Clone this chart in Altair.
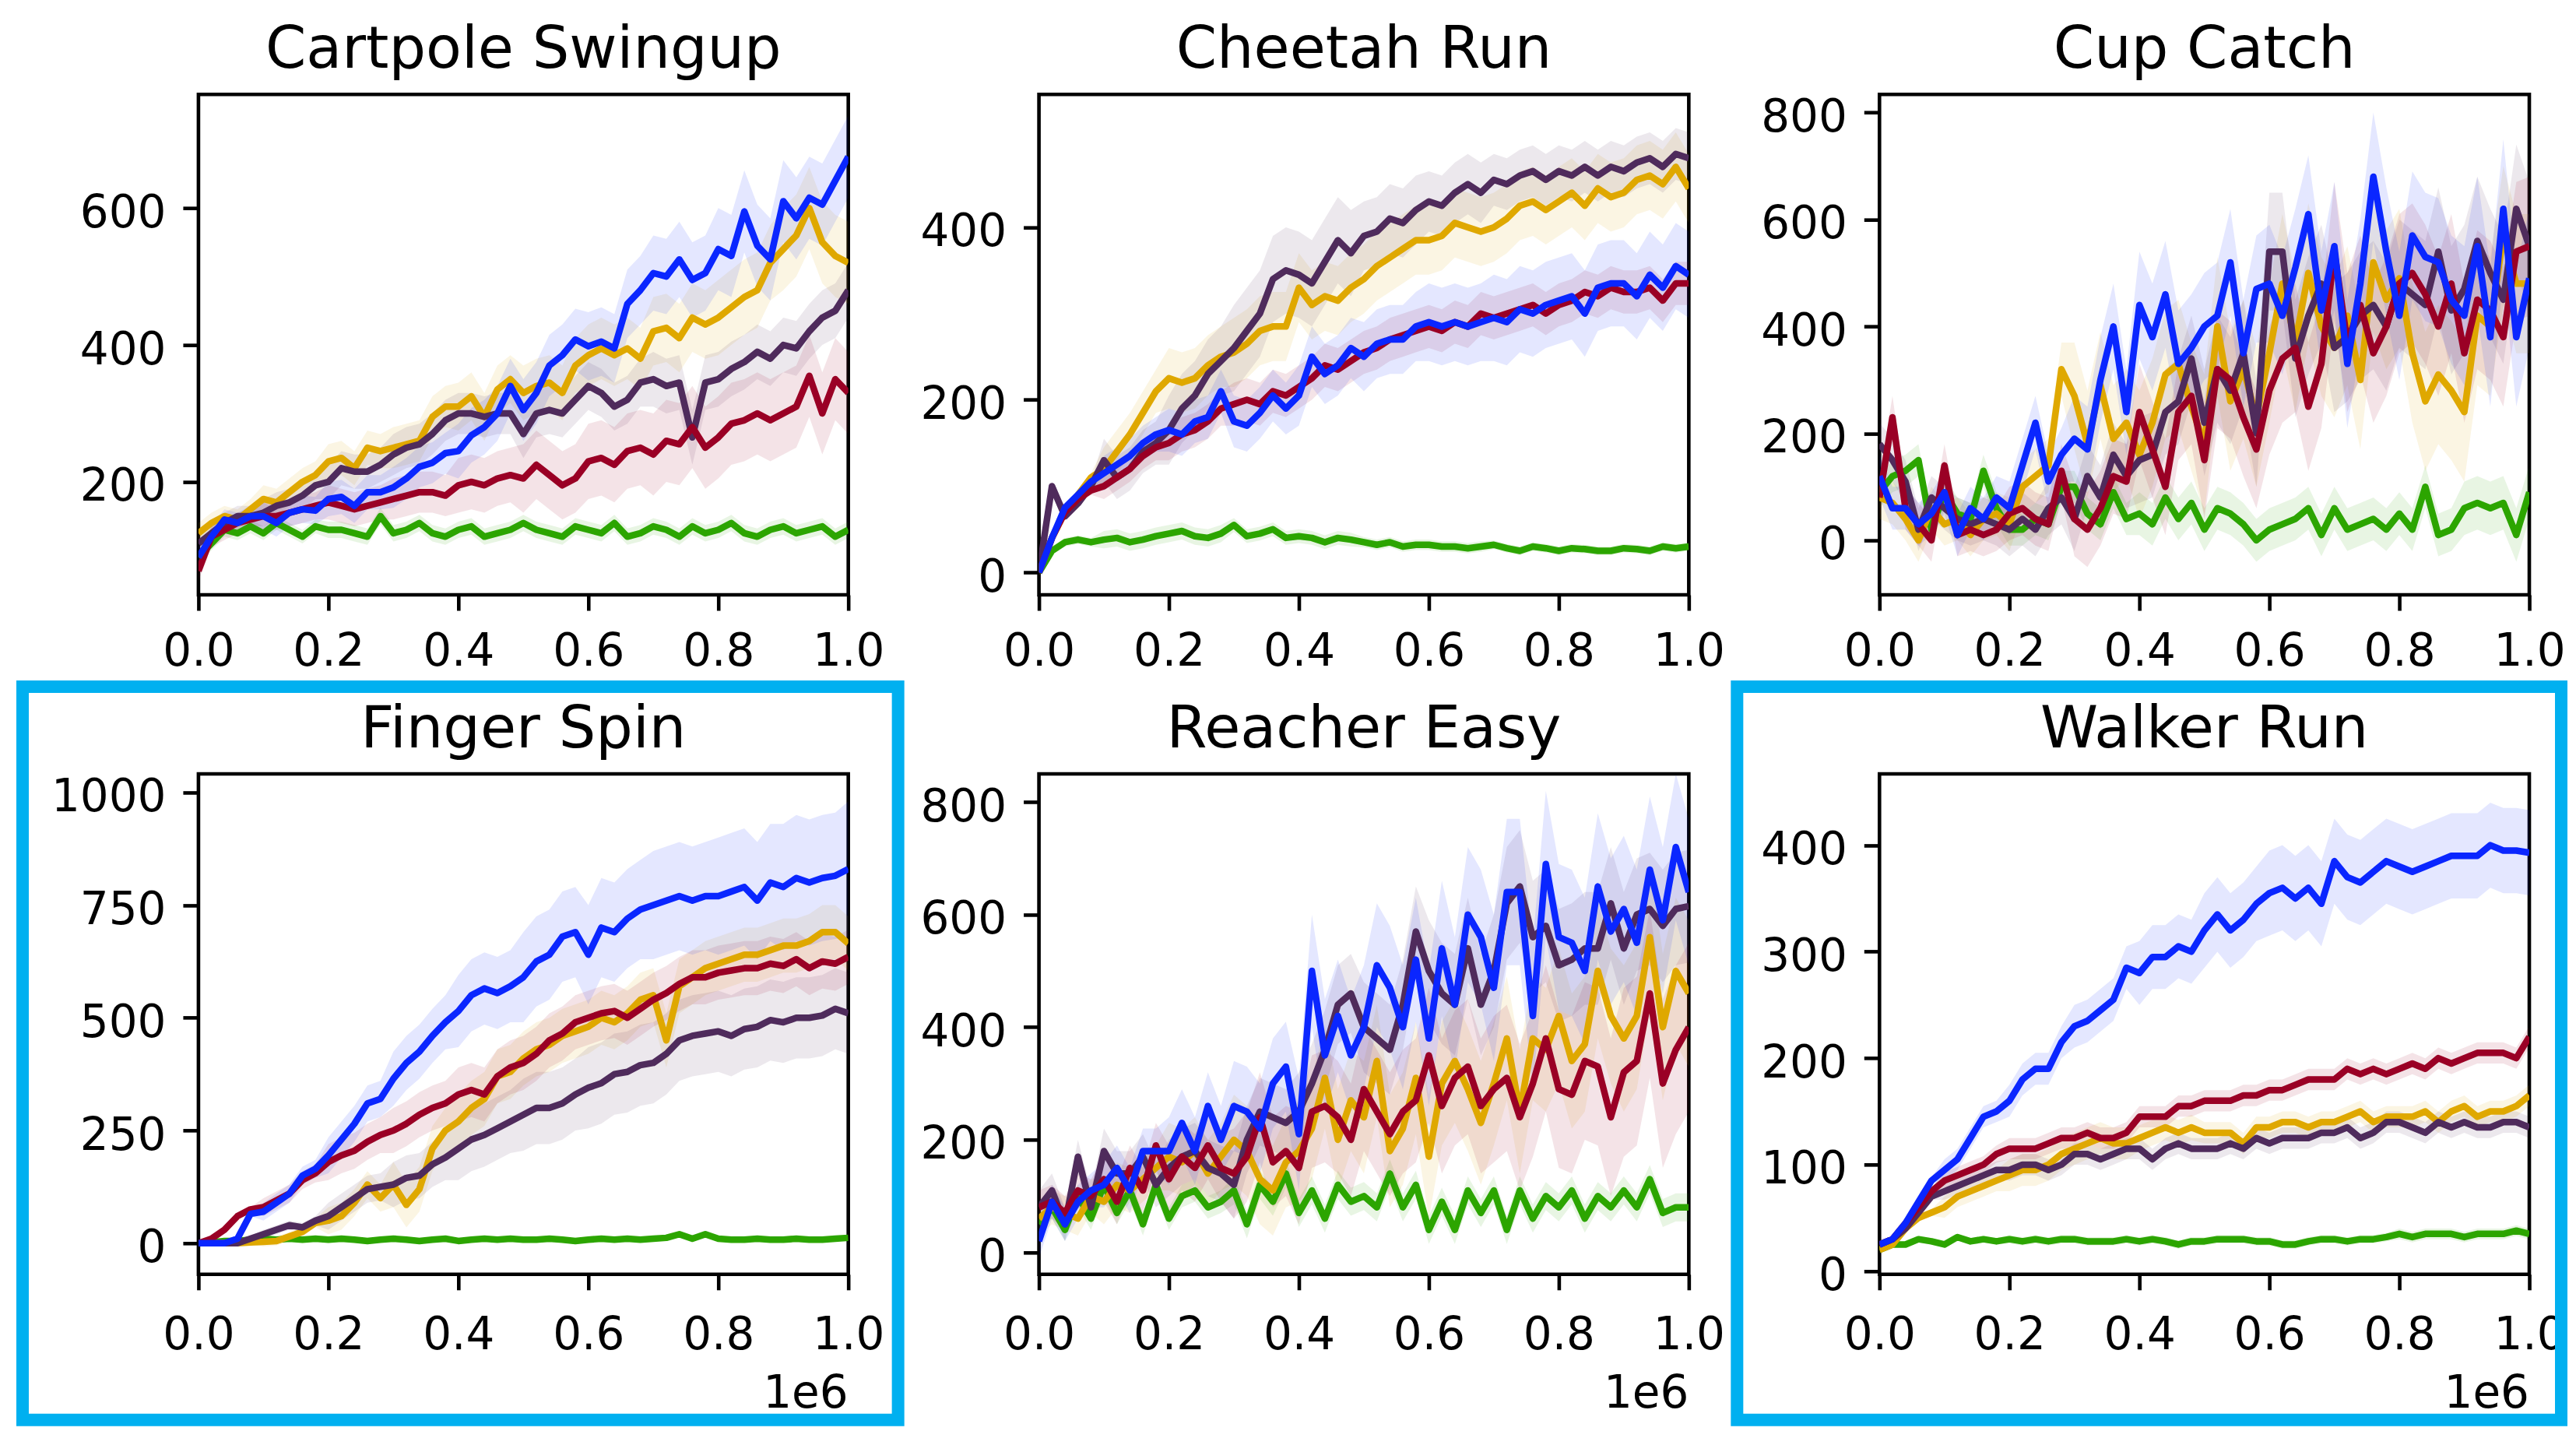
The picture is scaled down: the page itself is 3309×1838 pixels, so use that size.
import altair as alt
import pandas as pd

# ---------------- data (x in units of 1e6 environment steps) ----------------
STEPS = [0.0, 0.02, 0.04, 0.06, 0.08, 0.1, 0.12, 0.14, 0.16, 0.18,
         0.2, 0.22, 0.24, 0.26, 0.28, 0.3, 0.32, 0.34, 0.36, 0.38,
         0.4, 0.42, 0.44, 0.46, 0.48, 0.5, 0.52, 0.54, 0.56, 0.58,
         0.6, 0.62, 0.64, 0.66, 0.68, 0.7, 0.72, 0.74, 0.76, 0.78,
         0.8, 0.82, 0.84, 0.86, 0.88, 0.9, 0.92, 0.94, 0.96, 0.98,
         1.0]
X_TICKS = [0.0, 0.2, 0.4, 0.6, 0.8, 1.0]

TITLES = ["Cartpole Swingup", "Cheetah Run", "Cup Catch",
          "Finger Spin", "Reacher Easy", "Walker Run"]
X_OFFSET_TEXT = "1e6"

# --- Cartpole Swingup
cp_blue = [90, 120, 145, 140, 150, 150, 140, 155, 160, 158,
           175, 178, 165, 185, 185, 192, 205, 222, 228, 242,
           245, 268, 280, 300, 340, 305, 330, 370, 385, 408,
           398, 405, 395, 460, 480, 505, 500, 525, 495, 505,
           540, 530, 595, 545, 525, 610, 585, 615, 605, 640,
           675]
cp_gold = [125, 140, 150, 145, 160, 175, 170, 185, 200, 210,
           230, 235, 220, 250, 245, 250, 255, 260, 295, 310,
           310, 325, 295, 335, 350, 330, 340, 345, 330, 370,
           385, 395, 385, 395, 380, 420, 425, 410, 440, 430,
           440, 455, 470, 480, 520, 540, 560, 600, 550, 530,
           520]
cp_purple = [110, 125, 140, 150, 150, 155, 165, 170, 180, 195,
             200, 220, 215, 215, 225, 240, 250, 255, 270, 290,
             300, 300, 295, 300, 300, 270, 300, 305, 300, 320,
             340, 330, 310, 320, 345, 350, 340, 345, 265, 345,
             350, 365, 375, 390, 380, 400, 395, 420, 440, 450,
             480]
cp_red = [70, 120, 130, 140, 145, 150, 150, 155, 160, 165,
          170, 165, 160, 165, 170, 175, 180, 185, 185, 180,
          195, 200, 195, 205, 210, 205, 225, 210, 195, 205,
          230, 235, 225, 245, 250, 240, 260, 255, 280, 250,
          265, 285, 290, 300, 290, 300, 310, 355, 300, 350,
          330]
cp_green = [90, 110, 130, 125, 135, 125, 140, 130, 120, 135,
            130, 130, 125, 120, 150, 125, 130, 140, 125, 120,
            130, 135, 120, 125, 130, 140, 130, 125, 120, 135,
            130, 125, 140, 120, 125, 135, 130, 120, 135, 125,
            130, 140, 125, 120, 130, 135, 125, 130, 135, 120,
            130]
cp_blue_sd = [15, 20, 25, 30, 40, 45, 50, 55, 60, 60, 60]
cp_gold_sd = [15, 20, 25, 30, 35, 40, 45, 50, 55, 60, 60]
cp_purple_sd = [15, 20, 25, 30, 30, 35, 35, 40, 40, 40, 40]
cp_red_sd = [15, 20, 25, 30, 40, 50, 55, 60, 60, 60, 60]
cp_green_sd = [10, 10, 12, 12, 12, 12, 12, 12, 12, 12, 12]

# --- Cheetah Run
ch_blue = [0, 40, 75, 90, 105, 115, 125, 135, 150, 160,
           165, 160, 175, 180, 210, 175, 170, 185, 205, 190,
           205, 250, 230, 240, 260, 250, 265, 270, 270, 285,
           290, 285, 290, 285, 290, 295, 290, 305, 300, 310,
           315, 320, 300, 330, 335, 335, 320, 345, 330, 355,
           345]
ch_gold = [0, 40, 70, 90, 110, 120, 140, 160, 185, 210,
           225, 220, 225, 240, 250, 255, 265, 280, 285, 285,
           330, 310, 320, 315, 330, 340, 355, 365, 375, 385,
           385, 390, 405, 400, 395, 400, 410, 425, 430, 420,
           430, 440, 425, 445, 435, 440, 455, 460, 450, 470,
           445]
ch_purple = [0, 100, 65, 80, 100, 130, 110, 120, 140, 150,
             165, 190, 205, 230, 245, 260, 280, 300, 340, 350,
             345, 335, 360, 385, 370, 390, 395, 410, 405, 420,
             430, 425, 440, 450, 440, 455, 450, 460, 465, 455,
             465, 460, 470, 460, 470, 465, 475, 480, 470, 485,
             480]
ch_red = [0, 40, 70, 85, 95, 100, 110, 120, 135, 145,
          150, 160, 165, 175, 190, 195, 200, 195, 210, 205,
          215, 225, 240, 235, 245, 255, 260, 270, 275, 280,
          285, 280, 290, 285, 300, 295, 300, 305, 310, 300,
          310, 315, 325, 320, 330, 325, 325, 330, 315, 335,
          335]
ch_green = [0, 25, 35, 38, 35, 38, 40, 35, 38, 42,
            45, 48, 42, 40, 45, 55, 42, 45, 50, 40,
            42, 40, 35, 40, 38, 35, 32, 35, 30, 32,
            32, 30, 30, 28, 30, 32, 28, 25, 30, 28,
            25, 28, 27, 25, 25, 28, 27, 25, 30, 28,
            30]
ch_blue_sd = [5, 20, 25, 30, 35, 40, 45, 50, 50, 50, 50]
ch_gold_sd = [5, 25, 35, 40, 40, 40, 40, 40, 40, 40, 40]
ch_purple_sd = [5, 25, 40, 50, 50, 40, 35, 30, 30, 30, 30]
ch_red_sd = [5, 15, 20, 25, 25, 25, 25, 25, 25, 25, 25]
ch_green_sd = [5, 10, 10, 8, 8, 6, 6, 5, 5, 5, 5]

# --- Cup Catch
cc_blue = [120, 60, 60, 30, 50, 90, 10, 60, 40, 80,
           60, 140, 220, 110, 160, 190, 170, 300, 400, 240,
           440, 380, 460, 330, 360, 400, 420, 520, 350, 470,
           480, 420, 510, 610, 430, 550, 330, 480, 680, 540,
           420, 570, 530, 520, 450, 420, 550, 380, 620, 380,
           490]
cc_gold = [80, 70, 40, 0, 60, 30, 40, 10, 40, 50,
           30, 100, 120, 140, 320, 270, 180, 290, 190, 220,
           160, 220, 310, 330, 250, 180, 400, 260, 320, 230,
           350, 480, 370, 500, 400, 360, 420, 300, 520, 450,
           490, 350, 260, 310, 280, 240, 420, 400, 570, 480,
           480]
cc_purple = [180, 150, 110, 20, 80, 60, 40, 30, 40, 30,
             20, 40, 20, 60, 80, 40, 120, 80, 160, 120,
             150, 160, 240, 260, 340, 220, 320, 280, 350, 200,
             540, 540, 340, 420, 480, 360, 380, 420, 440, 400,
             480, 460, 440, 540, 430, 470, 560, 500, 450, 620,
             550]
cc_red = [80, 230, 60, 30, 0, 140, 10, 20, 10, 20,
          50, 60, 40, 30, 130, 40, 20, 60, 120, 110,
          240, 170, 100, 240, 270, 150, 320, 300, 230, 170,
          280, 340, 360, 250, 330, 540, 370, 440, 350, 400,
          480, 500, 460, 400, 480, 350, 450, 430, 380, 540,
          550]
cc_green = [90, 120, 130, 150, 20, 90, 50, 40, 130, 60,
            20, 20, 40, 30, 100, 100, 50, 30, 90, 40,
            50, 30, 80, 40, 70, 20, 60, 50, 30, 0,
            20, 30, 40, 60, 10, 60, 20, 30, 40, 20,
            50, 20, 100, 10, 20, 60, 70, 60, 70, 10,
            90]
cc_blue_sd = [40, 40, 50, 80, 100, 100, 110, 120, 120, 130, 130]
cc_gold_sd = [40, 40, 50, 100, 120, 130, 130, 130, 130, 130, 130]
cc_purple_sd = [40, 40, 50, 60, 80, 100, 110, 120, 120, 120, 120]
cc_red_sd = [40, 40, 50, 70, 90, 110, 120, 130, 130, 130, 130]
cc_green_sd = [30, 30, 30, 30, 40, 40, 40, 40, 40, 50, 50]

# --- Finger Spin
fs_blue = [0, 0, 0, 10, 65, 70, 90, 110, 150, 165,
           195, 230, 265, 310, 320, 365, 400, 425, 460, 490,
           515, 550, 565, 555, 570, 590, 625, 640, 680, 690,
           640, 700, 690, 720, 740, 750, 760, 770, 760, 770,
           770, 780, 790, 760, 800, 790, 810, 800, 810, 815,
           830]
fs_gold = [0, 0, 0, 0, 2, 3, 5, 15, 25, 45,
           50, 60, 90, 130, 100, 130, 85, 120, 210, 250,
           270, 300, 320, 370, 380, 410, 430, 440, 460, 470,
           480, 500, 490, 510, 540, 550, 450, 570, 590, 610,
           620, 630, 640, 640, 650, 660, 660, 670, 690, 690,
           665]
fs_purple = [0, 0, 0, 0, 10, 20, 30, 40, 35, 50,
             60, 80, 100, 120, 125, 130, 145, 150, 175, 190,
             210, 230, 240, 255, 270, 285, 300, 300, 310, 330,
             345, 355, 375, 380, 395, 400, 420, 450, 460, 465,
             470, 460, 475, 480, 495, 490, 500, 500, 505, 520,
             510]
fs_red = [0, 10, 30, 60, 75, 80, 95, 110, 140, 155,
          180, 195, 205, 225, 240, 250, 265, 285, 300, 310,
          330, 340, 330, 370, 390, 400, 420, 450, 465, 490,
          500, 510, 515, 500, 520, 540, 555, 575, 590, 590,
          600, 605, 610, 610, 620, 615, 630, 610, 625, 620,
          635]
fs_green = [0, 2, 5, 5, 8, 10, 8, 10, 8, 10,
            8, 10, 8, 5, 8, 10, 8, 5, 8, 10,
            5, 8, 10, 8, 10, 8, 8, 10, 8, 5,
            8, 10, 8, 10, 8, 10, 12, 20, 10, 20,
            10, 8, 8, 10, 8, 8, 10, 8, 8, 10,
            12]
fs_blue_sd = [5, 20, 40, 60, 80, 100, 110, 120, 130, 140, 150]
fs_gold_sd = [5, 10, 30, 50, 60, 60, 60, 60, 60, 60, 60]
fs_purple_sd = [5, 10, 30, 50, 70, 80, 90, 90, 90, 90, 90]
fs_red_sd = [5, 20, 40, 50, 60, 60, 60, 60, 60, 60, 60]
fs_green_sd = [3, 3, 3, 3, 3, 3, 3, 3, 3, 3, 3]

# --- Reacher Easy
re_blue = [20, 90, 50, 90, 110, 120, 150, 110, 180, 180,
           180, 230, 180, 260, 200, 260, 250, 220, 300, 330,
           210, 500, 350, 420, 350, 400, 510, 470, 400, 520,
           380, 540, 440, 600, 560, 470, 640, 640, 420, 690,
           560, 550, 500, 650, 570, 610, 550, 680, 590, 720,
           640]
re_gold = [60, 80, 70, 60, 100, 90, 120, 110, 130, 150,
           170, 160, 180, 140, 170, 200, 180, 130, 110, 160,
           180, 220, 310, 200, 270, 240, 340, 180, 220, 310,
           170, 300, 340, 290, 230, 300, 380, 250, 380, 360,
           420, 340, 370, 500, 420, 380, 420, 560, 400, 500,
           460]
re_purple = [80, 110, 50, 170, 80, 180, 140, 140, 170, 120,
             150, 170, 180, 150, 140, 120, 200, 250, 240, 230,
             250, 300, 360, 440, 460, 400, 380, 360, 440, 570,
             500, 460, 440, 540, 440, 500, 620, 650, 560, 580,
             510, 520, 540, 540, 620, 540, 600, 610, 580, 610,
             615]
re_red = [80, 90, 70, 110, 100, 130, 90, 150, 110, 190,
          130, 170, 150, 190, 150, 140, 170, 240, 160, 180,
          150, 250, 260, 240, 200, 290, 250, 210, 250, 270,
          350, 260, 310, 330, 260, 290, 310, 240, 300, 380,
          290, 280, 340, 330, 240, 320, 340, 460, 300, 360,
          400]
re_green = [50, 80, 40, 100, 60, 120, 70, 110, 50, 120,
            60, 100, 110, 80, 90, 110, 50, 120, 90, 140,
            70, 110, 60, 120, 90, 100, 80, 140, 80, 120,
            40, 90, 40, 110, 70, 110, 40, 110, 60, 100,
            80, 110, 60, 100, 80, 110, 80, 130, 70, 80,
            80]
re_blue_sd = [30, 40, 60, 80, 100, 110, 120, 130, 130, 130, 130]
re_gold_sd = [30, 40, 60, 80, 90, 100, 110, 110, 120, 130, 130]
re_purple_sd = [30, 40, 50, 60, 70, 80, 90, 100, 100, 100, 100]
re_red_sd = [30, 40, 60, 80, 100, 110, 120, 130, 140, 150, 150]
re_green_sd = [20, 20, 20, 25, 25, 25, 25, 25, 25, 25, 25]

# --- Walker Run
wr_blue = [25, 30, 45, 65, 85, 95, 105, 125, 145, 150,
           160, 180, 190, 190, 215, 230, 235, 245, 255, 285,
           280, 295, 295, 305, 300, 320, 335, 320, 330, 345,
           355, 360, 350, 360, 345, 385, 370, 365, 375, 385,
           380, 375, 380, 385, 390, 390, 390, 400, 395, 395,
           393]
wr_gold = [20, 25, 40, 50, 55, 60, 70, 75, 80, 85,
           90, 95, 95, 100, 110, 115, 120, 125, 120, 120,
           125, 130, 135, 130, 135, 130, 130, 130, 120, 135,
           135, 140, 140, 135, 140, 140, 145, 150, 140, 145,
           145, 145, 150, 140, 150, 155, 145, 150, 150, 155,
           165]
wr_purple = [25, 30, 40, 55, 70, 75, 80, 85, 90, 95,
             95, 100, 100, 95, 100, 110, 110, 105, 110, 115,
             115, 105, 115, 120, 115, 115, 115, 120, 115, 125,
             120, 125, 125, 125, 130, 130, 135, 125, 130, 140,
             140, 135, 130, 140, 135, 140, 135, 135, 140, 140,
             135]
wr_red = [25, 30, 45, 60, 75, 85, 90, 95, 100, 110,
          115, 115, 115, 120, 125, 125, 130, 125, 125, 130,
          145, 145, 145, 155, 155, 160, 160, 160, 165, 165,
          170, 170, 175, 180, 180, 180, 190, 185, 190, 185,
          190, 195, 190, 200, 195, 200, 205, 205, 205, 200,
          220]
wr_green = [20, 25, 25, 30, 28, 25, 32, 28, 30, 28,
            30, 28, 30, 28, 30, 30, 28, 28, 28, 30,
            28, 30, 28, 25, 28, 28, 30, 30, 30, 28,
            28, 25, 25, 28, 30, 30, 28, 30, 30, 32,
            35, 32, 35, 35, 35, 32, 35, 35, 35, 38,
            35]
wr_blue_sd = [3, 10, 15, 20, 30, 35, 40, 40, 40, 40, 40]
wr_gold_sd = [3, 10, 15, 15, 12, 10, 10, 10, 10, 10, 10]
wr_purple_sd = [3, 8, 10, 10, 10, 10, 10, 10, 10, 10, 10]
wr_red_sd = [3, 8, 10, 10, 10, 10, 10, 10, 10, 10, 10]
wr_green_sd = [3, 3, 4, 4, 4, 4, 4, 4, 5, 5, 5]

Y_DOMAINS = [[35, 766], [-26, 554], [-102, 834], [-69, 1041], [-39, 850], [-3, 467]]
Y_TICKS = [[200, 400, 600], [0, 200, 400], [0, 200, 400, 600, 800],
           [0, 250, 500, 750, 1000], [0, 200, 400, 600, 800], [0, 100, 200, 300, 400]]

MEANS = [
    {"blue": cp_blue, "gold": cp_gold, "purple": cp_purple, "red": cp_red, "green": cp_green},
    {"blue": ch_blue, "gold": ch_gold, "purple": ch_purple, "red": ch_red, "green": ch_green},
    {"blue": cc_blue, "gold": cc_gold, "purple": cc_purple, "red": cc_red, "green": cc_green},
    {"blue": fs_blue, "gold": fs_gold, "purple": fs_purple, "red": fs_red, "green": fs_green},
    {"blue": re_blue, "gold": re_gold, "purple": re_purple, "red": re_red, "green": re_green},
    {"blue": wr_blue, "gold": wr_gold, "purple": wr_purple, "red": wr_red, "green": wr_green},
]
SPREADS = [
    {"blue": cp_blue_sd, "gold": cp_gold_sd, "purple": cp_purple_sd, "red": cp_red_sd, "green": cp_green_sd},
    {"blue": ch_blue_sd, "gold": ch_gold_sd, "purple": ch_purple_sd, "red": ch_red_sd, "green": ch_green_sd},
    {"blue": cc_blue_sd, "gold": cc_gold_sd, "purple": cc_purple_sd, "red": cc_red_sd, "green": cc_green_sd},
    {"blue": fs_blue_sd, "gold": fs_gold_sd, "purple": fs_purple_sd, "red": fs_red_sd, "green": fs_green_sd},
    {"blue": re_blue_sd, "gold": re_gold_sd, "purple": re_purple_sd, "red": re_red_sd, "green": re_green_sd},
    {"blue": wr_blue_sd, "gold": wr_gold_sd, "purple": wr_purple_sd, "red": wr_red_sd, "green": wr_green_sd},
]

# ---------------- style ----------------
FONT = "DejaVu Sans"
COLORS = {"green": "#2ca500", "gold": "#dfa800", "purple": "#4f2b5c",
          "red": "#9a0025", "blue": "#0a26ff"}
ORDER = ["green", "gold", "purple", "red", "blue"]
CYAN = "#00b0f0"
W, H = 835, 643
SPINE = 4.6
LINE_W = 8.5

for m, s in zip(MEANS, SPREADS):
    for k in ORDER:
        assert len(m[k]) == len(STEPS), k
        assert len(s[k]) == 11, k


def one_row():
    return pd.DataFrame({"k": [0]})


def panel(i):
    bottom = i >= 3
    xs = alt.Scale(domain=[0, 1], nice=False, zero=False)
    ys = alt.Scale(domain=Y_DOMAINS[i], nice=False, zero=False)
    x_axis = alt.Axis(values=X_TICKS, format=".1f",
                      labelPadding=30 if bottom else 24, title=None)
    y_axis = alt.Axis(values=Y_TICKS[i], format="d", labelPadding=22,
                      labelOffset=7, title=None)

    bands, lines = [], []
    for key in ORDER:
        mean = MEANS[i][key]
        sd = SPREADS[i][key]
        df = pd.DataFrame({
            "step": STEPS,
            "mean": mean,
            "lo": [v - sd[j // 5] for j, v in enumerate(mean)],
            "hi": [v + sd[j // 5] for j, v in enumerate(mean)],
        })
        base = alt.Chart(df)
        bands.append(base.mark_area(color=COLORS[key], opacity=0.11, clip=True).encode(
            x=alt.X("step:Q", scale=xs, axis=x_axis),
            y=alt.Y("lo:Q", scale=ys, axis=y_axis),
            y2="hi:Q"))
        lines.append(base.mark_line(color=COLORS[key], strokeWidth=LINE_W,
                                    strokeJoin="round", clip=True).encode(
            x=alt.X("step:Q", scale=xs, axis=x_axis),
            y=alt.Y("mean:Q", scale=ys, axis=y_axis)))

    extra = []
    # panel title above the plot area
    extra.append(alt.Chart(one_row()).mark_text(
        text=TITLES[i], font=FONT, fontSize=75, color="black",
        align="center", baseline="alphabetic", clip=False).encode(
        x=alt.value(W / 2), y=alt.value(-34)))
    if bottom:
        # x-axis offset text ("1e6") at the lower right of the axis
        extra.append(alt.Chart(one_row()).mark_text(
            text=X_OFFSET_TEXT, font=FONT, fontSize=58, color="black",
            align="right", baseline="alphabetic", clip=False).encode(
            x=alt.value(W), y=alt.value(H + 171)))
    if i == 0:
        # transparent anchor fixing the top edge of the figure
        extra.append(alt.Chart(one_row()).mark_rect(opacity=0, clip=False).encode(
            x=alt.value(0), x2=alt.value(4), y=alt.value(-110), y2=alt.value(-106)))
    if i == 3:
        extra.append(alt.Chart(one_row()).mark_rect(
            filled=False, stroke=CYAN, strokeWidth=16, clip=False).encode(
            x=alt.value(-226), x2=alt.value(899), y=alt.value(-112), y2=alt.value(830)))
    if i == 5:
        extra.append(alt.Chart(one_row()).mark_rect(
            filled=False, stroke=CYAN, strokeWidth=16, clip=False).encode(
            x=alt.value(-183), x2=alt.value(876), y=alt.value(-112), y2=alt.value(830)))

    return alt.layer(*bands, *lines, *extra).properties(width=W, height=H)


chart = alt.concat(*[panel(i) for i in range(6)], columns=3,
                   spacing={"row": 230, "column": 245}, bounds="flush").properties(
    padding={"left": 10, "top": 0, "right": 0, "bottom": 0}
).configure_view(
    stroke="black", strokeWidth=SPINE
).configure_axis(
    labelFont=FONT, labelFontSize=58, labelColor="black",
    tickColor="black", tickWidth=SPINE, tickSize=20,
    grid=False, domain=False, labelFlush=False, labelOverlap=False
)

chart.save("out.html", embed_options={"renderer": "svg", "actions": False})
